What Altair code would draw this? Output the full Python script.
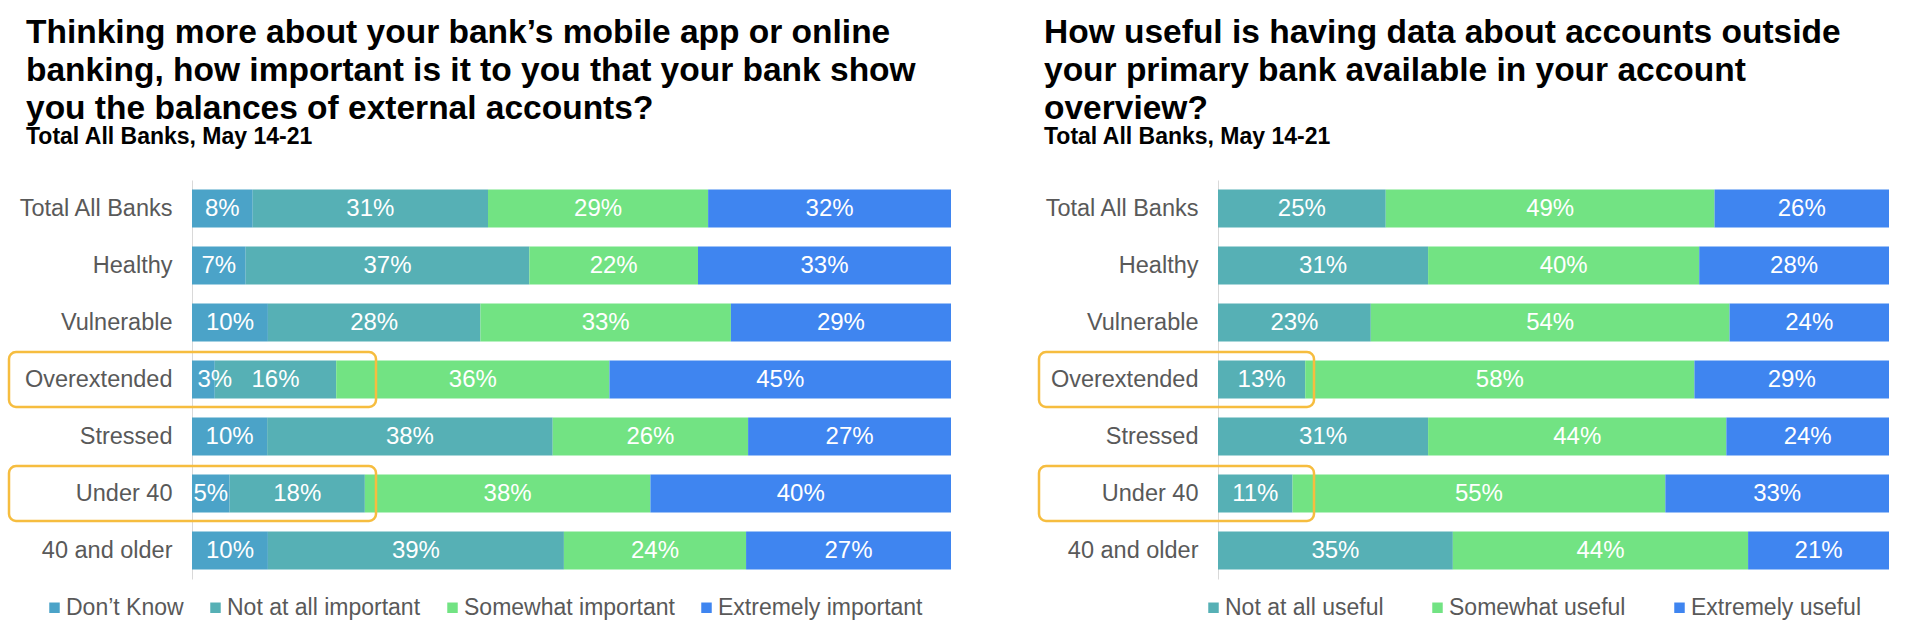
import altair as alt
import pandas as pd

# ---------------- data ----------------
categories = ["Total All Banks", "Healthy", "Vulnerable", "Overextended",
              "Stressed", "Under 40", "40 and older"]
highlighted = ["Overextended", "Under 40"]

left_series = ["Don’t Know", "Not at all important", "Somewhat important", "Extremely important"]
left_dont_know = [8, 7, 10, 3, 10, 5, 10]
left_not_at_all = [31, 37, 28, 16, 38, 18, 39]
left_somewhat = [29, 22, 33, 36, 26, 38, 24]
left_extremely = [32, 33, 29, 45, 27, 40, 27]

right_series = ["Not at all useful", "Somewhat useful", "Extremely useful"]
right_not_at_all = [25, 31, 23, 13, 31, 11, 35]
right_somewhat = [49, 40, 54, 58, 44, 55, 44]
right_extremely = [26, 28, 24, 29, 24, 33, 21]

left_title = ["Thinking more about your bank’s mobile app or online",
              "banking, how important is it to you that your bank show",
              "you the balances of external accounts?"]
right_title = ["How useful is having data about accounts outside",
               "your primary bank available in your account",
               "overview?"]
subtitle = "Total All Banks, May 14-21"

left_colors = ["#4BA3C8", "#56B0B5", "#72E383", "#3F85F0"]
right_colors = ["#56B0B5", "#72E383", "#3F85F0"]

FONT = "Liberation Sans"
BOX_COLOR = "#F6BD3F"


def build(series, columns):
    rows = []
    for i, cat in enumerate(categories):
        vals = [col[i] for col in columns]
        total = float(sum(vals))
        cum = 0.0
        for s, v in zip(series, vals):
            start = cum / total
            cum += v
            end = cum / total
            rows.append(dict(cat=cat, series=s, pct=v, start=start, end=end,
                             label=f"{v}%",
                             lpos=(start + end) / 2 if v >= 4 else end))
    return pd.DataFrame(rows)


left_df = build(left_series, [left_dont_know, left_not_at_all, left_somewhat, left_extremely])
right_df = build(right_series, [right_not_at_all, right_somewhat, right_extremely])
box_df = pd.DataFrame({"cat": highlighted})


def panel(df, series, colors, title_lines, plot_w, title_dx, legend_x, legend_gap,
          box_x, box_x2):
    yscale = alt.Scale(domain=categories, paddingInner=1 / 3, paddingOuter=1 / 6)
    y = alt.Y("cat:N", sort=categories, scale=yscale,
              axis=alt.Axis(title=None, ticks=False, grid=False,
                            domainColor="#D9D9D9", domainWidth=1,
                            labelFontSize=23.5, labelColor="#595959",
                            labelFont=FONT, labelPadding=20, labelLimit=300))
    xscale = alt.Scale(domain=[0, 1], nice=False, zero=False)
    bars = alt.Chart(df).mark_bar().encode(
        y=y,
        x=alt.X("start:Q", scale=xscale, axis=None),
        x2="end:Q",
        color=alt.Color("series:N", sort=series,
                        scale=alt.Scale(domain=series, range=colors),
                        legend=alt.Legend(title=None, orient="none",
                                          legendX=legend_x, legendY=416,
                                          direction="horizontal",
                                          symbolType="square", symbolSize=110,
                                          symbolStrokeWidth=0,
                                          labelFontSize=23, labelColor="#595959",
                                          labelFont=FONT, labelLimit=400,
                                          labelOffset=0, columnPadding=legend_gap)),
    )
    text = alt.Chart(df).mark_text(color="white", fontSize=24, font=FONT,
                                   align="center", baseline="middle").encode(
        y=alt.Y("cat:N", sort=categories),
        x=alt.X("lpos:Q"),
        text="label:N",
    )
    boxes = alt.Chart(box_df).mark_bar(fillOpacity=0, stroke=BOX_COLOR,
                                       strokeWidth=2.5, cornerRadius=7,
                                       height=55).encode(
        y=alt.Y("cat:N", sort=categories),
        x=alt.value(box_x),
        x2=alt.value(box_x2),
    )
    return alt.layer(bars, text, boxes).properties(
        width=plot_w, height=399,
        title=alt.TitleParams(text=title_lines, subtitle=subtitle,
                              anchor="start", frame="group", dx=title_dx,
                              font=FONT, fontSize=33.5, fontWeight="bold",
                              color="black", lineHeight=38,
                              subtitleFont=FONT, subtitleFontSize=23,
                              subtitleFontWeight="bold", subtitleColor="black",
                              subtitlePadding=0, offset=30),
    )


left = panel(left_df, left_series, left_colors, left_title, 759, -166, -149, 20, -183, 184)
right = panel(right_df, right_series, right_colors, right_title, 671, -174, -16, 42, -179, 96)

chart = alt.hconcat(left, right, spacing=267, bounds="flush").resolve_scale(
    color="independent", x="independent", y="independent"
).resolve_legend(color="independent").properties(
    padding={"left": 7, "top": 15, "right": 10, "bottom": 5},
    background="white",
).configure_view(stroke=None)

chart.save("out.html", embed_options={"renderer": "svg", "actions": False})
